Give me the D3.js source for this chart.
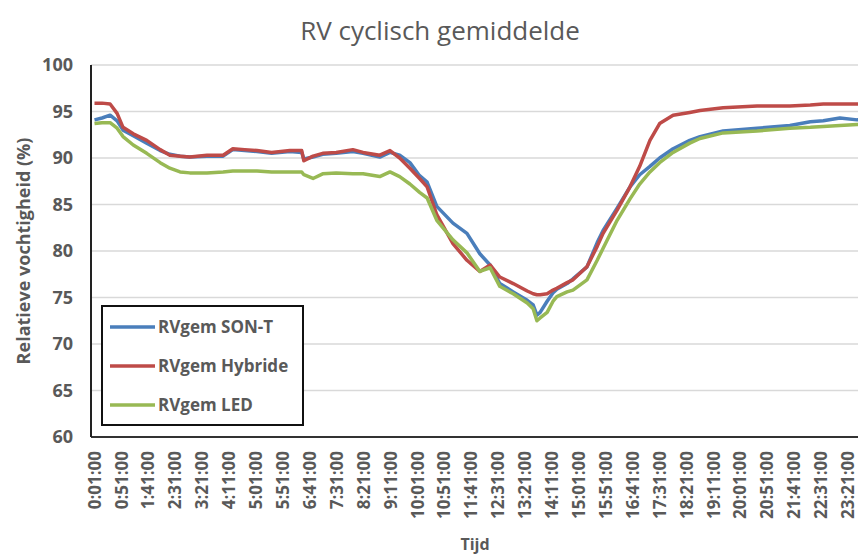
<!DOCTYPE html>
<html lang="nl">
<head>
<meta charset="UTF-8">
<title>RV cyclisch gemiddelde</title>
<script src="https://d3js.org/d3.v7.min.js"></script>
<style>
  body { margin: 0; background: #fff; }
  svg { display: block; font-family: "Open Sans", sans-serif; }
</style>
</head>
<body>
<div id="chart"></div>
<script>
// time in minutes since midnight
const minutes = [1, 15, 30, 43, 54, 73, 98, 123, 141, 160, 178, 210, 240, 258, 280, 303, 330, 364, 386, 390,
  407, 425, 450, 481, 500, 531, 550, 568, 587, 605, 619, 637, 667, 693, 717, 736, 754, 779, 805, 816,
  823, 829, 842, 853, 860, 879, 890, 916, 935, 946, 972, 996, 1014, 1033, 1051, 1076, 1107, 1126, 1169, 1232,
  1293, 1331, 1355, 1386, 1418, 1440];

const sonT = [94.1, 94.3, 94.6, 94.0, 93.0, 92.4, 91.6, 90.8, 90.4, 90.2, 90.1, 90.2, 90.2, 90.9, 90.8, 90.7, 90.5, 90.7, 90.6, 89.9,
  90.1, 90.4, 90.5, 90.7, 90.5, 90.1, 90.6, 90.3, 89.5, 88.1, 87.4, 84.8, 83.0, 81.9, 79.7, 78.5, 76.5, 75.6, 74.7, 74.2,
  73.1, 73.4, 74.6, 75.5, 75.9, 76.5, 77.0, 78.3, 80.9, 82.2, 84.6, 86.9, 88.2, 89.1, 90.0, 91.0, 91.9, 92.3, 92.9, 93.2,
  93.5, 93.9, 94.0, 94.3, 94.1, 94.1];

const hybride = [95.9, 95.9, 95.8, 94.8, 93.3, 92.6, 91.9, 90.9, 90.3, 90.2, 90.1, 90.3, 90.3, 91.0, 90.9, 90.8, 90.6, 90.8, 90.8, 89.7,
  90.2, 90.5, 90.6, 90.9, 90.6, 90.3, 90.8, 90.0, 88.9, 87.8, 86.9, 83.9, 80.8, 79.0, 77.8, 78.5, 77.2, 76.5, 75.7, 75.4,
  75.3, 75.3, 75.4, 75.8, 76.0, 76.6, 76.9, 78.3, 80.5, 81.9, 84.4, 86.9, 89.1, 91.9, 93.7, 94.6, 94.9, 95.1, 95.4, 95.6,
  95.6, 95.7, 95.8, 95.8, 95.8, 95.8];

const led = [93.7, 93.8, 93.8, 93.2, 92.3, 91.4, 90.5, 89.5, 88.9, 88.5, 88.4, 88.4, 88.5, 88.6, 88.6, 88.6, 88.5, 88.5, 88.5, 88.2,
  87.8, 88.3, 88.4, 88.3, 88.3, 88.0, 88.5, 88.0, 87.2, 86.3, 85.7, 83.3, 81.2, 79.8, 77.8, 78.2, 76.2, 75.4, 74.4, 73.8,
  72.5, 72.8, 73.4, 74.6, 75.1, 75.6, 75.8, 76.9, 79.0, 80.3, 83.3, 85.6, 87.2, 88.5, 89.5, 90.6, 91.6, 92.1, 92.7, 92.9,
  93.2, 93.3, 93.4, 93.5, 93.6, 93.6];

const seriesNames = ["RVgem SON-T", "RVgem Hybride", "RVgem LED"];
const seriesColors = ["#4a7ebb", "#be4b48", "#98b954"];

const yTicks = [60, 65, 70, 75, 80, 85, 90, 95, 100];
const xTickLabels = ["0:01:00", "0:51:00", "1:41:00", "2:31:00", "3:21:00", "4:11:00", "5:01:00", "5:51:00",
  "6:41:00", "7:31:00", "8:21:00", "9:11:00", "10:01:00", "10:51:00", "11:41:00", "12:31:00", "13:21:00",
  "14:11:00", "15:01:00", "15:51:00", "16:41:00", "17:31:00", "18:21:00", "19:11:00", "20:01:00", "20:51:00",
  "21:41:00", "22:31:00", "23:21:00"];
const xTickMinutes = xTickLabels.map(s => {
  const p = s.split(":");
  return +p[0] * 60 + +p[1];
});

const width = 858, height = 559;
const plot = { left: 91, right: 858, top: 65, bottom: 437 };
const textColor = "#595959";

const series = [sonT, hybride, led].map((vals, i) => ({
  name: seriesNames[i],
  color: seriesColors[i],
  points: minutes.map((m, j) => ({ t: m, v: vals[j] }))
}));

const x = d3.scaleLinear().domain([1, 1401]).range([94.5, 848]);
const y = d3.scaleLinear().domain([60, 100]).range([plot.bottom, plot.top]);

const svg = d3.select("#chart").append("svg")
  .attr("width", width)
  .attr("height", height);

svg.append("rect").attr("width", width).attr("height", height).attr("fill", "#fff");

// title
svg.append("text")
  .attr("x", 440)
  .attr("y", 40)
  .attr("text-anchor", "middle")
  .attr("font-size", 26)
  .attr("fill", textColor)
  .text("RV cyclisch gemiddelde");

// gridlines
svg.append("g")
  .selectAll("line")
  .data(yTicks.slice(1))
  .join("line")
  .attr("x1", plot.left)
  .attr("x2", plot.right)
  .attr("y1", d => y(d))
  .attr("y2", d => y(d))
  .attr("stroke", "#d9d9d9")
  .attr("stroke-width", 1.5);

// y tick labels
svg.append("g")
  .selectAll("text")
  .data(yTicks)
  .join("text")
  .attr("x", 73)
  .attr("y", d => y(d))
  .attr("dy", "0.36em")
  .attr("text-anchor", "end")
  .attr("font-size", 18)
  .attr("font-weight", "bold")
  .attr("fill", textColor)
  .text(d => d);

// x tick labels (vertical)
svg.append("g")
  .selectAll("text")
  .data(xTickMinutes)
  .join("text")
  .attr("transform", d => `translate(${x(d)},451) rotate(-90)`)
  .attr("dy", "0.36em")
  .attr("text-anchor", "end")
  .attr("font-size", 17)
  .attr("font-weight", "bold")
  .attr("fill", textColor)
  .text((d, i) => xTickLabels[i]);

// axis titles
svg.append("text")
  .attr("transform", "translate(24,251) rotate(-90)")
  .attr("text-anchor", "middle")
  .attr("dy", "0.36em")
  .attr("font-size", 18)
  .attr("font-weight", "bold")
  .attr("fill", textColor)
  .text("Relatieve vochtigheid (%)");

svg.append("text")
  .attr("x", 475)
  .attr("y", 550)
  .attr("text-anchor", "middle")
  .attr("font-size", 16)
  .attr("font-weight", "bold")
  .attr("fill", textColor)
  .text("Tijd");

// lines
const line = d3.line()
  .x(d => x(d.t))
  .y(d => y(d.v));

svg.append("g")
  .selectAll("path")
  .data(series)
  .join("path")
  .attr("d", d => line(d.points))
  .attr("fill", "none")
  .attr("stroke", d => d.color)
  .attr("stroke-width", 3.5)
  .attr("stroke-linejoin", "round");

// axes lines
svg.append("line")
  .attr("x1", plot.left).attr("x2", plot.right)
  .attr("y1", plot.bottom).attr("y2", plot.bottom)
  .attr("stroke", "#333").attr("stroke-width", 2);
svg.append("line")
  .attr("x1", plot.left).attr("x2", plot.left)
  .attr("y1", plot.top).attr("y2", plot.bottom)
  .attr("stroke", "#222").attr("stroke-width", 2);

// legend
const legend = svg.append("g");
legend.append("rect")
  .attr("x", 102).attr("y", 306)
  .attr("width", 201).attr("height", 119)
  .attr("fill", "#fff")
  .attr("stroke", "#111")
  .attr("stroke-width", 2);

const item = legend.selectAll("g.item")
  .data(series)
  .join("g")
  .attr("class", "item")
  .attr("transform", (d, i) => `translate(0,${327 + i * 39})`);

item.append("line")
  .attr("x1", 110).attr("x2", 155)
  .attr("stroke", d => d.color)
  .attr("stroke-width", 3.5);

item.append("text")
  .attr("x", 158)
  .attr("dy", "0.36em")
  .attr("font-size", 17)
  .attr("font-weight", "bold")
  .attr("fill", textColor)
  .text(d => d.name);
</script>
</body>
</html>
